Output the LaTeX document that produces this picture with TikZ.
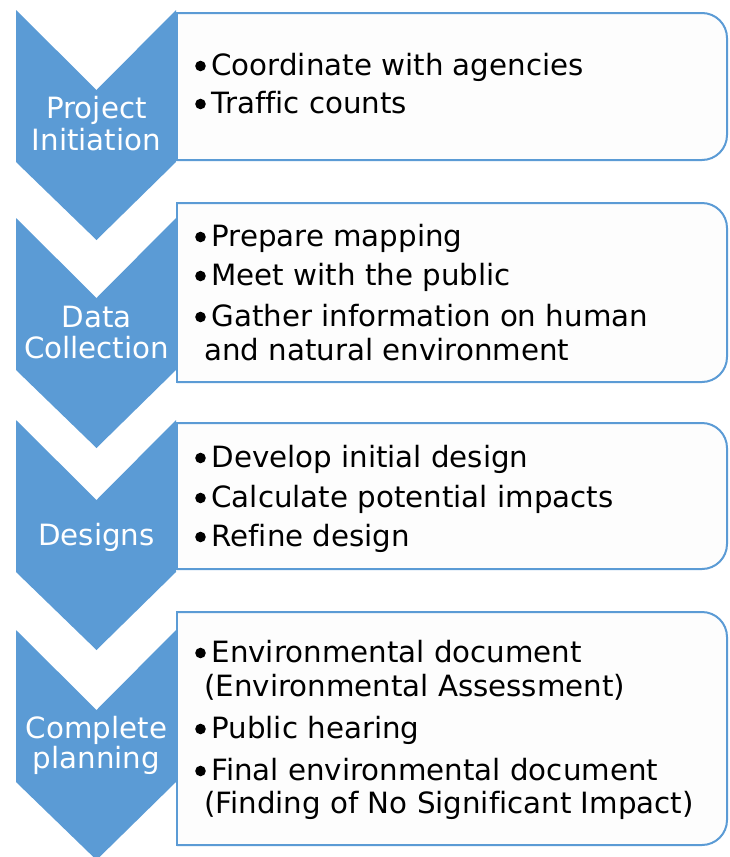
\documentclass[tikz,border=0pt]{standalone}
\usepackage{fontspec}
\setmainfont[Ligatures=NoCommon]{DejaVu Sans}
\definecolor{chevblue}{HTML}{5B9BD5}
\definecolor{boxfill}{HTML}{FDFDFD}
\begin{document}
\begin{tikzpicture}[x=1pt,y=-1pt,
  chev/.style={fill=chevblue},
  stepbox/.style={fill=boxfill,draw=chevblue,line width=2pt,rounded corners=25pt},
  boxedge/.style={draw=chevblue,line width=2pt,line cap=rect},
  phase/.style={text=white,font=\fontsize{29.3}{31}\selectfont,anchor=base,inner sep=0pt},
  item/.style={text=black,font=\fontsize{29.3}{34}\selectfont,anchor=base west,inner sep=0pt},
  bulletdot/.style={fill=black}]
\useasboundingbox (0,0) rectangle (729,857);
% chevrons
\foreach \t in {10,218,420,630}
  \fill[chev] (16,\t) -- (96.5,{\t+80}) -- (176,\t) -- (176,{\t+152})
     -- (96.5,{\t+230}) -- (16,{\t+152}) -- cycle;
% boxes
\foreach \a/\b in {13/160,203/382,423/569,612/845}{
  \path[stepbox] (177,\a) -- (727,\a) -- (727,\b) -- (177,\b);
  \draw[boxedge] (177,\a) -- (177,\b);
}
% phase labels
\node[phase] (l1a) at (96.5,118) {Project};
\node[phase] (l1b) at (96.5,150) {Initiation};
\node[phase] (l2a) at (96.5,327) {Data};
\node[phase] (l2b) at (96.5,358) {Collection};
\node[phase] (l3)  at (96.5,545) {Designs};
\node[phase] (l4a) at (96.5,738) {Complete};
\node[phase] (l4b) at (96.5,768) {planning};
% bullets
\foreach \y in {75,113,246,285,326,467,507,546,662,738,780}
  \fill[bulletdot] (200.5,{\y-9}) circle[radius=5.3pt];
% items
\node[item] (i1a) at (211.3,75)  {Coordinate with agencies};
\node[item] (i1b) at (211.3,113) {Traffic counts};
\node[item] (i2a) at (211.3,246) {Prepare mapping};
\node[item] (i2b) at (211.3,285) {Meet with the public};
\node[item] (i2c) at (211.3,326) {Gather information on human};
\node[item] (i2d) at (204,360) {and natural environment};
\node[item] (i3a) at (211.3,467) {Develop initial design};
\node[item] (i3b) at (211.3,507) {Calculate potential impacts};
\node[item] (i3c) at (211.3,546) {Refine design};
\node[item] (i4a) at (211.3,662) {Environmental document};
\node[item] (i4b) at (204,696) {(Environmental Assessment)};
\node[item] (i4c) at (211.3,738) {Public hearing};
\node[item] (i4d) at (211.3,780) {Final environmental document};
\node[item] (i4e) at (204,813) {(Finding of No Significant Impact)};
\end{tikzpicture}
\end{document}
